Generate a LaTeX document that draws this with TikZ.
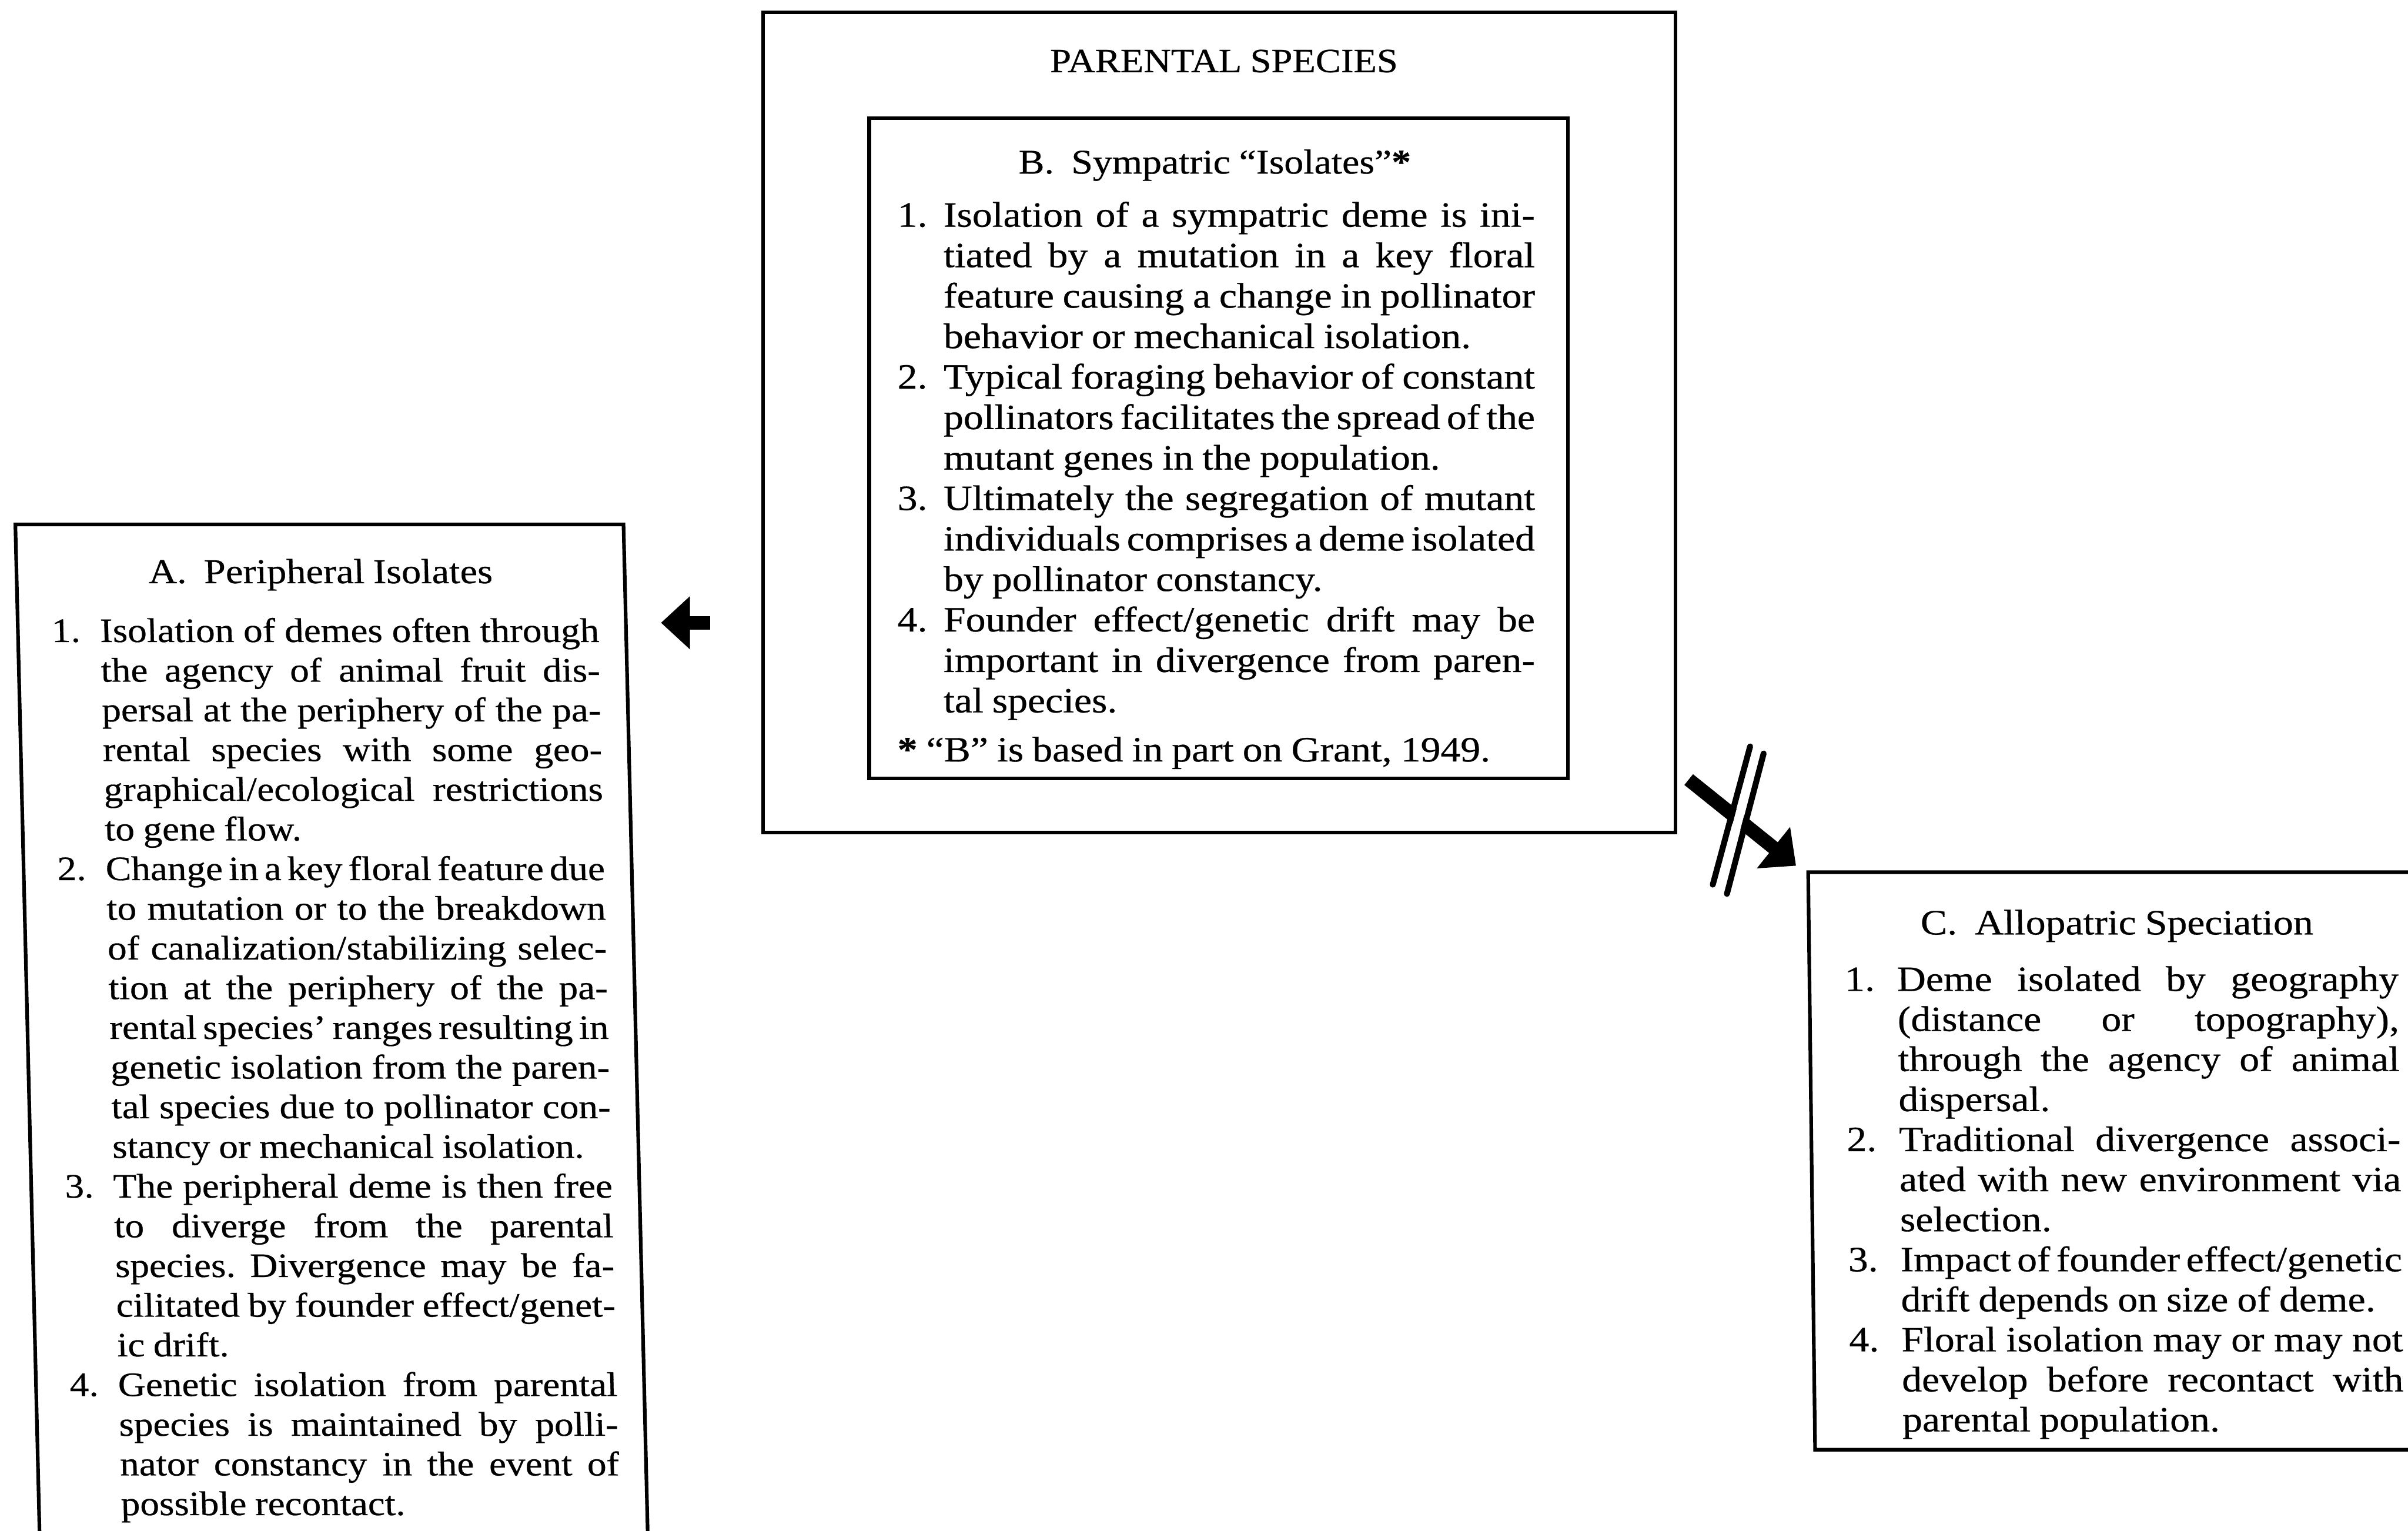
\documentclass[tikz,border=0pt]{standalone}
\usepackage{fontspec}
\setmainfont{Liberation Serif}[FakeStretch=1.12,FakeBold=0.5]
\usetikzlibrary{arrows.meta,calc}

\newcommand{\pxu}{0.4667pt}
\newlength{\labw}
% justified lines, last line left open
\newcommand{\fullwidth}{\leftskip=0pt\rightskip=0pt
  \parfillskip=0pt plus 1fil\relax}
% numbered entry with a hanging label
\newcommand{\entry}[2]{\fullwidth\hangindent=\labw\hangafter=1\noindent
  \makebox[\labw][l]{#1}#2\par}
% face and spacing of the box texts
\newcommand{\boxfont}[2]{\fontsize{#1}{#2}\selectfont\frenchspacing
  \spaceskip=0.25em plus 1.5em minus 0.25em\relax}
\tolerance=10000 \hbadness=10000 \hfuzz=3pt

\begin{document}
\begin{tikzpicture}[x=\pxu,y=-\pxu,>={Triangle[length=8.8pt,width=15.6pt]},
    panel/.style={draw,line width=1.1pt,inner sep=0pt,outer sep=0pt,
      anchor=north west},
    heading/.style={inner sep=0pt,anchor=base,font=\boxfont{10.8}{12}},
    bodytext/.style={inner sep=0pt,anchor=base west,text width=#1,align=justify},
    bigarrow/.style={->,line width=4.2pt},
    breakstroke/.style={line width=1.8pt,line cap=round}]

  \useasboundingbox (0,0) rectangle (1568,996.5);
  \clip (0,0) rectangle (1568,996.5);

  % parental species, with the sympatric box inside
  \node[panel,minimum width=594*\pxu,minimum height=534*\pxu] (parental) at (497,8) {};
  \node[heading,font=\boxfont{10.3}{12}] (parental title) at (797,47) {PARENTAL SPECIES};

  \node[panel,minimum width=455*\pxu,minimum height=430*\pxu] (sympatric) at (566,77) {};
  \node[heading,font=\boxfont{10.5}{12}] (sympatric title) at (791,113)
    {B.\enspace Sympatric “Isolates”\textbf{*}};
  \node[bodytext=193.7pt,font=\boxfont{10.8}{12.3}] (sympatric text) at (584,147.6) {%
    \setlength{\labw}{14pt}%
    \entry{1.}{Isolation of a sympatric deme is ini-\linebreak
      tiated by a mutation in a key floral\linebreak
      feature causing a change in pollinator\linebreak
      behavior or mechanical isolation.}
    \entry{2.}{Typical foraging behavior of constant\linebreak
      pollinators facilitates the spread of the\linebreak
      mutant genes in the population.}
    \entry{3.}{Ultimately the segregation of mutant\linebreak
      individuals comprises a deme isolated\linebreak
      by pollinator constancy.}
    \entry{4.}{Founder effect/genetic drift may be\linebreak
      important in divergence from paren-\linebreak
      tal species.}
    \vspace{2.6pt}
    \fullwidth\noindent\textbf{*} “B” is based in part on Grant, 1949.\par};

  % peripheral isolates (page is sheared a little here)
  \begin{scope}[shift={(10,341.5)},xslant=-0.024,transform shape]
    \node[panel,minimum width=396*\pxu,minimum height=700*\pxu] (peripheral) at (0,0) {};
    \node[heading,font=\boxfont{10.6}{12}] (peripheral title) at (198,38.2)
      {A.\enspace Peripheral Isolates};
    \node[bodytext=166.4pt,font=\boxfont{10.4}{12.06}] (peripheral text) at (21.5,76.5) {%
      \setlength{\labw}{14.7pt}%
      \entry{1.}{Isolation of demes often through\linebreak
        the agency of animal fruit dis-\linebreak
        persal at the periphery of the pa-\linebreak
        rental species with some geo-\linebreak
        graphical/ecological restrictions\linebreak
        to gene flow.}
      \entry{2.}{Change in a key floral feature due\linebreak
        to mutation or to the breakdown\linebreak
        of canalization/stabilizing selec-\linebreak
        tion at the periphery of the pa-\linebreak
        rental species’ ranges resulting in\linebreak
        genetic isolation from the paren-\linebreak
        tal species due to pollinator con-\linebreak
        stancy or mechanical isolation.}
      \entry{3.}{The peripheral deme is then free\linebreak
        to diverge from the parental\linebreak
        species. Divergence may be fa-\linebreak
        cilitated by founder effect/genet-\linebreak
        ic drift.}
      \entry{4.}{Genetic isolation from parental\linebreak
        species is maintained by polli-\linebreak
        nator constancy in the event of\linebreak
        possible recontact.}};
  \end{scope}

  % allopatric speciation
  \begin{scope}[shift={(1177.4,567.9)},xslant=-0.012,transform shape]
    \node[panel,minimum width=420*\pxu,minimum height=376*\pxu] (allopatric) at (0,0) {};
    \node[heading] (allopatric title) at (200.6,40.5) {C.\enspace Allopatric Speciation};
    \node[bodytext=168.3pt,font=\boxfont{10.8}{12.17}] (allopatric text) at (22.6,77.3) {%
      \setlength{\labw}{15.9pt}%
      \entry{1.}{Deme isolated by geography\linebreak
        (distance or topography),\linebreak
        through the agency of animal\linebreak
        dispersal.}
      \entry{2.}{Traditional divergence associ-\linebreak
        ated with new environment via\linebreak
        selection.}
      \entry{3.}{Impact of founder effect/genetic\linebreak
        drift depends on size of deme.}
      \entry{4.}{Floral isolation may or may not\linebreak
        develop before recontact with\linebreak
        parental population.}};
  \end{scope}

  % parental -> peripheral
  \coordinate (from parental) at (462.3,405.5);
  \coordinate (to peripheral) at (430.4,405.5);
  \draw[bigarrow] (from parental) -- (to peripheral);

  % sympatric -/-> allopatric
  \coordinate (from sympatric) at (1099.6,507.6);
  \coordinate (to allopatric) at (1169.5,563.7);
  \coordinate (cut1 top) at (1139.6,486);
  \coordinate (cut1 bot) at (1115.3,576);
  \coordinate (cut2 top) at (1148.4,490.6);
  \coordinate (cut2 bot) at (1124.5,582);
  \draw[bigarrow] (from sympatric) -- (to allopatric);
  \draw[white,line width=2.7pt] ($(cut1 top)!0.5!(cut2 top)$) -- ($(cut1 bot)!0.5!(cut2 bot)$);
  \draw[breakstroke] (cut1 top) -- (cut1 bot);
  \draw[breakstroke] (cut2 top) -- (cut2 bot);
\end{tikzpicture}
\end{document}
